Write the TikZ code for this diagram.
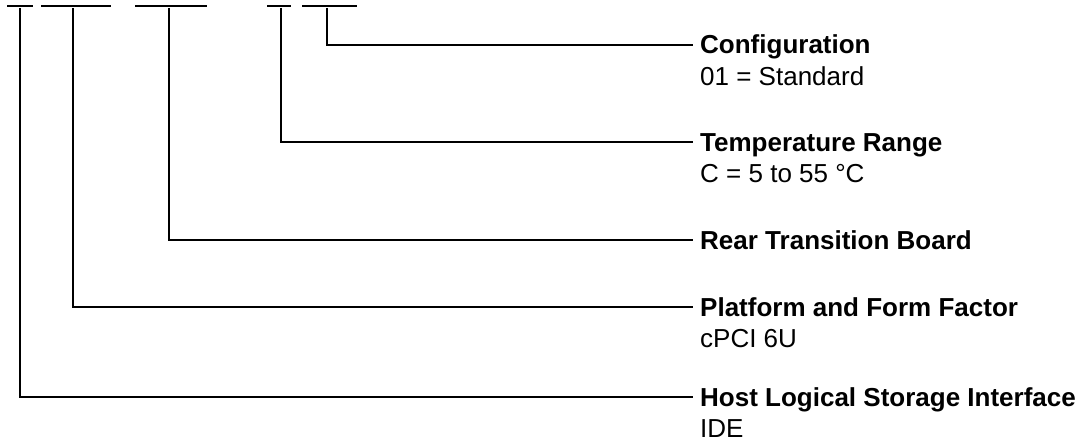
\documentclass[tikz,border=0pt]{standalone}
\usepackage{fontspec}
\setmainfont{Liberation Sans}
\begin{document}
\begin{tikzpicture}[x=1pt,y=-1pt,
  ln/.style={line width=2pt, line cap=butt},
  head/.style={anchor=base west, inner sep=0pt, font=\fontsize{26}{31}\selectfont\bfseries},
  sub/.style={anchor=base west, inner sep=0pt, font=\fontsize{26}{31}\selectfont}]
\useasboundingbox (0,0) rectangle (1088,444);
% top bars
\coordinate (b1a) at (7,6);   \coordinate (b1b) at (33,6);
\coordinate (b2a) at (41,6);  \coordinate (b2b) at (111,6);
\coordinate (b3a) at (135,6); \coordinate (b3b) at (207,6);
\coordinate (b4a) at (267,6); \coordinate (b4b) at (291,6);
\coordinate (b5a) at (302,6); \coordinate (b5b) at (357,6);
\draw[ln] (b1a) -- (b1b);
\draw[ln] (b2a) -- (b2b);
\draw[ln] (b3a) -- (b3b);
\draw[ln] (b4a) -- (b4b);
\draw[ln] (b5a) -- (b5b);
% vertical starts
\coordinate (v1) at (20,8);
\coordinate (v2) at (73,8);
\coordinate (v3) at (169,8);
\coordinate (v4) at (281,8);
\coordinate (v5) at (327,8);
% line ends
\coordinate (e5) at (693,45);
\coordinate (e4) at (693,142);
\coordinate (e3) at (693,240);
\coordinate (e2) at (693,307);
\coordinate (e1) at (693,397);
% labels
\node[head] (cfg) at (700,54) {Configuration};
\node[sub] (cfgs) at (700,85) {01 = Standard};
\node[head] (tmp) at (700,151) {Temperature Range};
\node[sub] (tmps) at (700,182) {C = 5 to 55 °C};
\node[head] (rtb) at (700,249) {Rear Transition Board};
\node[head] (pff) at (700,316) {Platform and Form Factor};
\node[sub] (pffs) at (700,347) {cPCI 6U};
\node[head] (hlsi) at (700,406) {Host Logical Storage Interface};
\node[sub] (hlsis) at (700,437) {IDE};
% connectors
\draw[ln] (v5) |- (e5);
\draw[ln] (v4) |- (e4);
\draw[ln] (v3) |- (e3);
\draw[ln] (v2) |- (e2);
\draw[ln] (v1) |- (e1);
\end{tikzpicture}
\end{document}
